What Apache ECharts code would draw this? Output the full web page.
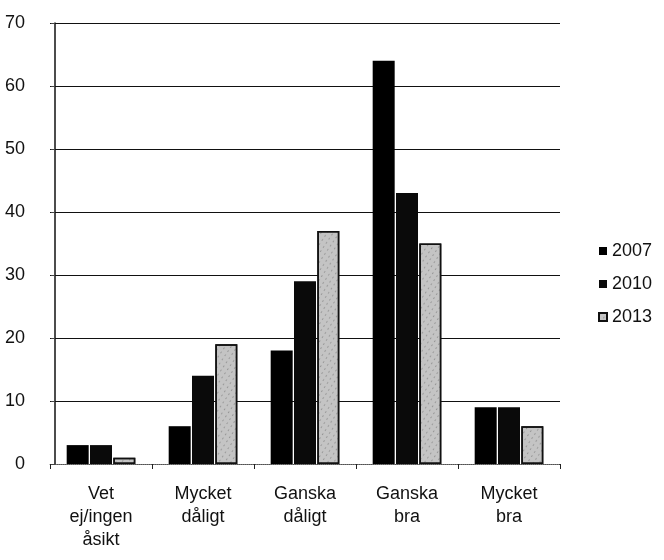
<!DOCTYPE html>
<html><head><meta charset="utf-8">
<script src="https://cdn.jsdelivr.net/npm/echarts@6/dist/echarts.min.js"></script>
<style>html,body{margin:0;padding:0;background:#fff}#c{width:664px;height:560px}</style>
</head><body><div id="c"></div>
<script>
const categories = ['Vet\nej/ingen\nåsikt', 'Mycket\ndåligt', 'Ganska\ndåligt', 'Ganska\nbra', 'Mycket\nbra'];
const s2007 = [3, 6, 18, 64, 9];
const s2010 = [3, 14, 29, 43, 9];
const s2013 = [1, 19, 37, 35, 6];
const yTicks = [0, 10, 20, 30, 40, 50, 60, 70];

const chart = echarts.init(document.getElementById('c'));
const font = 'Liberation Sans, Arial, sans-serif';
chart.setOption({
  animation: false,
  backgroundColor: '#fff',
  grid: { left: 50, right: 104, top: 23, bottom: 96, containLabel: false },
  legend: {
    orient: 'vertical', left: 593, top: 237, itemGap: 15,
    itemWidth: 8, itemHeight: 8, icon: 'rect',
    textStyle: { fontFamily: font, fontSize: 18, color: '#111' },
    data: ['2007', '2010', '2013']
  },
  xAxis: {
    type: 'category', data: categories,
    axisLine: { lineStyle: { color: '#777', type: 'dotted', width: 1 } },
    axisTick: { show: true, length: 5, lineStyle: { color: '#222' } },
    axisLabel: { fontFamily: font, fontSize: 18, color: '#111', lineHeight: 23, margin: 19, interval: 0 }
  },
  yAxis: {
    type: 'value', min: yTicks[0], max: yTicks[yTicks.length - 1], interval: 10,
    offset: -5,
    axisLine: { show: true, lineStyle: { color: '#111', width: 1.5 } },
    axisTick: { show: true, length: 4, lineStyle: { color: '#444' } },
    axisLabel: { fontFamily: font, fontSize: 18, color: '#111', margin: 30 },
    splitLine: { show: true, lineStyle: { color: '#111', width: 1.2 } }
  },
  series: [
    { name: '2007', type: 'bar', data: s2007, barWidth: 22, barGap: '6%',
      itemStyle: { color: '#000' } },
    { name: '2010', type: 'bar', data: s2010, barWidth: 22, barGap: '6%',
      itemStyle: { color: '#0a0a0a' } },
    { name: '2013', type: 'bar', data: s2013, barWidth: 22, barGap: '6%',
      itemStyle: { color: '#c4c4c4', borderColor: '#111', borderWidth: 1.5,
        decal: { symbol: 'circle', symbolSize: 0.5, color: 'rgba(0,0,0,0.55)', dashArrayX: [3, 2], dashArrayY: [2, 3], rotation: 0.6 } } }
  ]
});
</script></body></html>
